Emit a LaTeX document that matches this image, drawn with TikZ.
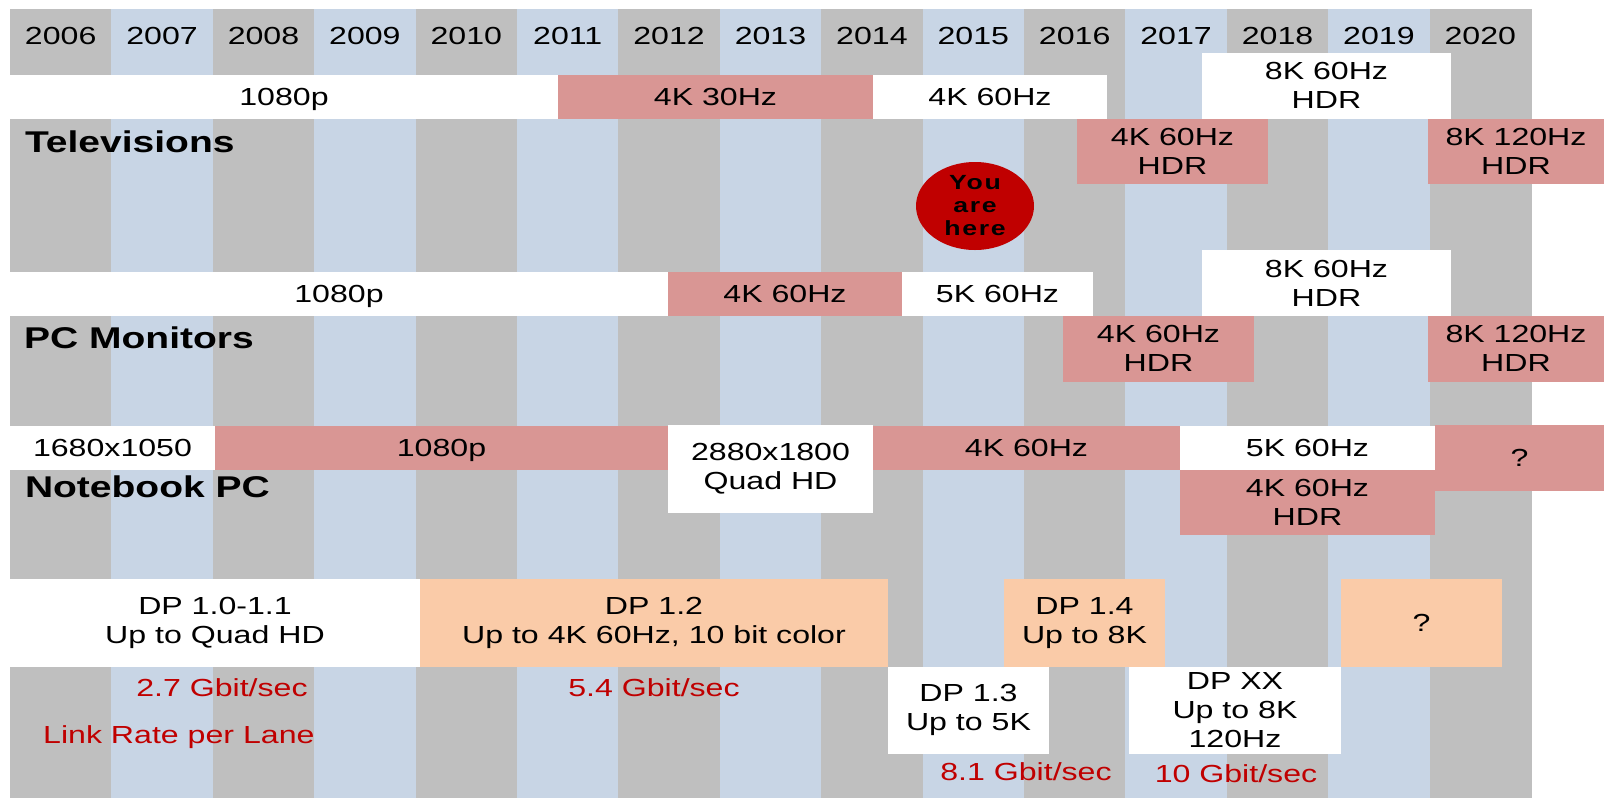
\documentclass[tikz,border=0pt]{standalone}
\usepackage{xcolor}
\usepackage{fontspec}
\setmainfont{Liberation Sans}[FakeStretch=1.3]
\newfontfamily\herefont{Liberation Sans}[FakeStretch=1.3,LetterSpace=8]
\usetikzlibrary{shapes.geometric}
\definecolor{colgray}{RGB}{191,191,191}
\definecolor{colblue}{RGB}{200,213,229}
\definecolor{barred}{RGB}{217,150,148}
\definecolor{barpeach}{RGB}{250,203,168}
\definecolor{darkred}{RGB}{192,0,0}

\begin{document}
\begin{tikzpicture}[x=1pt, y=-1pt,
  every node/.style={font=\fontsize{24.7}{29}\selectfont, inner sep=0pt, align=center},
  bar/.style n args={3}{fill=#1, minimum width=#2pt, minimum height=#3pt},
  flat/.style={text depth=0pt},
  rate/.style={text=darkred, anchor=base},
  device/.style={font=\fontsize{30}{34}\selectfont\bfseries, anchor=base west}]

  \fill[white] (0,0) rectangle (1604,801);
  \useasboundingbox (0,0) rectangle (1604,801);

  % Year columns
  \foreach \i in {0,...,14} {
    \ifodd\i \def\colfill{colblue}\else \def\colfill{colgray}\fi
    \fill[\colfill] (10+101.4*\i,9) rectangle ++(101.9,789);
    \node[anchor=base] (y\i) at (60.7+101.4*\i,44.2) {\number\numexpr2006+\i\relax};
  }

  % Televisions
  \node[bar={white}{548}{44}, flat] (tv1080) at (284,96.7) {1080p};
  \node[bar={barred}{315}{44}] (tv4k30) at (715.5,96.7) {4K 30Hz};
  \node[bar={white}{234}{44}] (tv4k60) at (990,96.7) {4K 60Hz};
  \node[bar={white}{249}{66}] (tv8k60) at (1326.5,85.7) {8K 60Hz\\HDR};
  \node[bar={barred}{191}{65.6}] (tv4khdr) at (1172.5,151.5) {4K 60Hz\\HDR};
  \node[bar={barred}{176}{65.6}] (tv8khdr) at (1516,151.5) {8K 120Hz\\HDR};
  \node[device] (tv) at (24.8,152.7) {Televisions};

  \node[ellipse, fill=darkred, minimum width=118pt, minimum height=88pt,
    font=\herefont\bfseries\fontsize{20.5}{23}\selectfont] (here) at (975,206) {You\\are\\here};

  % PC Monitors
  \node[bar={white}{658}{43.7}, flat] (pc1080) at (339,293.85) {1080p};
  \node[bar={barred}{234}{43.7}] (pc4k60) at (785,293.85) {4K 60Hz};
  \node[bar={white}{191}{43.7}] (pc5k60) at (997.5,293.85) {5K 60Hz};
  \node[bar={white}{249}{66}] (pc8k60) at (1326.5,283) {8K 60Hz\\HDR};
  \node[bar={barred}{191}{66}] (pc4khdr) at (1158.5,348.7) {4K 60Hz\\HDR};
  \node[bar={barred}{176}{66}] (pc8khdr) at (1516,348.7) {8K 120Hz\\HDR};
  \node[device] (pc) at (24,348.3) {PC Monitors};

  % Notebook PC
  \node[bar={white}{205}{44}] (nb1680) at (112.5,447.7) {1680x1050};
  \node[bar={barred}{453}{44}, flat] (nb1080) at (441.5,447.7) {1080p};
  \node[bar={white}{205}{87.7}] (nbqhd) at (770.5,468.85) {2880x1800\\Quad HD};
  \node[bar={barred}{307}{44}] (nb4k60) at (1026.5,447.7) {4K 60Hz};
  \node[bar={white}{255}{44}] (nb5k60) at (1307.5,447.7) {5K 60Hz};
  \node[bar={barred}{255}{65}] (nb4khdr) at (1307.5,502.2) {4K 60Hz\\HDR};
  \node[bar={barred}{169}{65.7}] (nbnext) at (1519.5,457.85) {?};
  \node[device] (nb) at (24.8,497.3) {Notebook PC};

  % DisplayPort versions
  \node[bar={white}{410}{87.7}] (dp11) at (215,622.85) {DP 1.0-1.1\\Up to Quad HD};
  \node[bar={barpeach}{468}{87.7}] (dp12) at (654,622.85) {DP 1.2\\Up to 4K 60Hz, 10 bit color};
  \node[bar={barpeach}{161}{87.7}] (dp14) at (1084.5,622.85) {DP 1.4\\Up to 8K};
  \node[bar={barpeach}{161}{87.7}] (dpnext) at (1421.5,622.85) {?};
  \node[bar={white}{161}{87}] (dp13) at (968.5,710.2) {DP 1.3\\Up to 5K};
  \node[bar={white}{212}{87}] (dpxx) at (1235,710.2) {DP XX\\Up to 8K\\120Hz};

  % Link rates
  \node[rate] (r27) at (222,696.5) {2.7 Gbit/sec};
  \node[rate] (r54) at (654,696.5) {5.4 Gbit/sec};
  \node[rate, anchor=base west] (lane) at (43,743.2) {Link Rate per Lane};
  \node[rate] (r81) at (1026,780) {8.1 Gbit/sec};
  \node[rate] (r10) at (1236,782.5) {10 Gbit/sec};
\end{tikzpicture}
\end{document}
